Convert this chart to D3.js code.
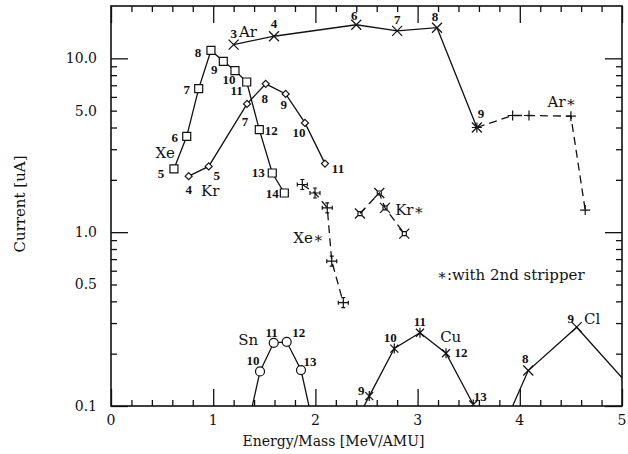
<!DOCTYPE html>
<html>
<head>
<meta charset="utf-8">
<script src="https://cdn.jsdelivr.net/npm/d3@7"></script>
<style>
  body { margin: 0; background: #fff; }
  text { fill: #111; }
</style>
</head>
<body>
<script>
// chart size
var wW = 628;
var wH = 454;

// ---- data (energy/mass in MeV/AMU, current in uA, charge state) ----
var arE = [1.20, 1.595, 2.40, 2.80, 3.19, 3.58];
var arI = [12.0, 13.4, 15.6, 14.4, 15.0, 4.0];
var arQ = ['3', '4', '6', '7', '8', '9'];

var arsE = [3.58, 3.93, 4.09, 4.50, 4.64];
var arsI = [4.0, 4.69, 4.69, 4.65, 1.34];

var xeE = [0.616, 0.741, 0.858, 0.978, 1.099, 1.213, 1.328, 1.451, 1.578, 1.696];
var xeI = [2.31, 3.56, 6.70, 11.1, 9.61, 8.5, 7.31, 3.89, 2.19, 1.68];
var xeQ = ['5', '6', '7', '8', '9', '10', '11', '12', '13', '14'];

var krE = [0.760, 0.956, 1.331, 1.514, 1.709, 1.898, 2.094];
var krI = [2.10, 2.39, 5.47, 7.13, 6.24, 4.25, 2.48];
var krQ = ['4', '5', '7', '8', '9', '10', '11'];

var xesE = [1.872, 1.996, 2.116, 2.160, 2.273];
var xesI = [1.88, 1.68, 1.38, 0.681, 0.393];

var krsE = [2.436, 2.625, 2.681, 2.870];
var krsI = [1.28, 1.68, 1.38, 0.98];

var snE = [1.324, 1.458, 1.592, 1.719, 1.859, 1.996];
var snI = [0.070, 0.158, 0.231, 0.234, 0.161, 0.070];
var snQ = ['', '10', '11', '12', '13', ''];

var cuE = [2.28, 2.527, 2.772, 3.023, 3.278, 3.545];
var cuI = [0.060, 0.114, 0.214, 0.264, 0.201, 0.102];
var cuQ = ['', '9', '10', '11', '12', '13'];

var clE = [3.71, 4.083, 4.557, 5.10];
var clI = [0.051, 0.160, 0.284, 0.125];
var clQ = ['', '8', '9', ''];

// axis ticks
var xTickValues = [0, 1, 2, 3, 4, 5];
var xTickLabels = ['0', '1', '2', '3', '4', '5'];
var yTickValues = [0.1, 0.5, 1, 5, 10];
var yTickLabels = ['0.1', '0.5', '1.0', '5.0', '10.0'];

// ---- layout ----
var margin = { left: 111, right: 6, top: 6, bottom: 48 };
var plotR = wW - margin.right;
var plotB = wH - margin.bottom;

var x = d3.scaleLinear().domain([0, 5]).range([margin.left, plotR]);
var y = d3.scaleLog().domain([0.1, 20]).range([plotB, margin.top]);

var serif = 'DejaVu Serif';
var labelFont = 'Liberation Serif';

// charge state label offsets (px, relative to the point)
var arOff = [[0, -11], [0, -12], [-2, -9], [0, -11], [-2, -11], [4, -14]];
var xeOff = [[-13, 5], [-12, 2], [-12, 1], [-13, 3], [-9, 9], [-6, 9], [-10, 9], [12, 1], [-14, 0], [-12, 1]];
var krOff = [[0, 14], [8, 10], [-2, 18], [-1, 15], [-2, 11], [-6, 10], [13, 5]];
var snOff = [[0, 0], [-7, -10], [-2, -10], [12, -9], [9, -8], [0, 0]];
var cuOff = [[0, 0], [-8, -5], [-4, -11], [0, -11], [15, 0], [7, -8]];
var clOff = [[0, 0], [-3, -12], [-6, -8], [0, 0]];

// series name labels, in data units
var seriesNames = [
  { text: 'Ar', e: 1.34, i: 14.1 },
  { text: 'Ar\u2217', e: 4.41, i: 5.62 },
  { text: 'Xe', e: 0.53, i: 2.85 },
  { text: 'Kr', e: 0.97, i: 1.72 },
  { text: 'Xe\u2217', e: 1.93, i: 0.92 },
  { text: 'Kr\u2217', e: 2.92, i: 1.34 },
  { text: 'Sn', e: 1.343, i: 0.240 },
  { text: 'Cu', e: 3.324, i: 0.251 },
  { text: 'Cl', e: 4.709, i: 0.316 }
];

var svg = d3.select('body').append('svg')
  .attr('width', wW)
  .attr('height', wH);

svg.append('defs').append('clipPath').attr('id', 'plot')
  .append('rect')
  .attr('x', margin.left).attr('y', margin.top)
  .attr('width', plotR - margin.left).attr('height', plotB - margin.top);

// ---- axes: inward ticks on all four sides ----
var xMinor = d3.range(0, 5.01, 0.2).filter(v => Math.abs(v - Math.round(v)) > 0.01);
var yMinor = [];
[0.1, 1, 10].forEach(d => {
  for (var k = 2; k <= 9; k++) if (d * k < 20) yMinor.push(d * k);
});
var yMajor = [0.1, 1, 10];

var tickStyle = (g) => {
  g.select('.domain').remove();
  g.selectAll('line').attr('stroke', '#111').attr('stroke-width', 1.3);
};

svg.append('g').attr('transform', 'translate(0,' + plotB + ')')
  .call(d3.axisBottom(x).tickValues(xMinor).tickSize(-6).tickFormat(''))
  .call(tickStyle);
svg.append('g').attr('transform', 'translate(0,' + plotB + ')')
  .call(d3.axisBottom(x).tickValues(xTickValues).tickSize(-17).tickFormat(''))
  .call(tickStyle);
svg.append('g').attr('transform', 'translate(0,' + margin.top + ')')
  .call(d3.axisTop(x).tickValues(xMinor).tickSize(-6).tickFormat(''))
  .call(tickStyle);
svg.append('g').attr('transform', 'translate(0,' + margin.top + ')')
  .call(d3.axisTop(x).tickValues(xTickValues).tickSize(-17).tickFormat(''))
  .call(tickStyle);

svg.append('g').attr('transform', 'translate(' + margin.left + ',0)')
  .call(d3.axisLeft(y).tickValues(yMinor).tickSize(-6).tickFormat(''))
  .call(tickStyle);
svg.append('g').attr('transform', 'translate(' + margin.left + ',0)')
  .call(d3.axisLeft(y).tickValues(yMajor).tickSize(-17).tickFormat(''))
  .call(tickStyle);
svg.append('g').attr('transform', 'translate(' + plotR + ',0)')
  .call(d3.axisRight(y).tickValues(yMinor).tickSize(-6).tickFormat(''))
  .call(tickStyle);
svg.append('g').attr('transform', 'translate(' + plotR + ',0)')
  .call(d3.axisRight(y).tickValues(yMajor).tickSize(-17).tickFormat(''))
  .call(tickStyle);

// frame
svg.append('rect')
  .attr('x', margin.left).attr('y', margin.top)
  .attr('width', plotR - margin.left).attr('height', plotB - margin.top)
  .attr('fill', 'none').attr('stroke', '#111').attr('stroke-width', 1.6);

// tick labels
xTickValues.forEach((v, idx) => {
  svg.append('text')
    .attr('x', x(v)).attr('y', plotB + 19)
    .attr('font-family', serif).attr('font-size', 14)
    .attr('text-anchor', 'middle')
    .text(xTickLabels[idx]);
});
yTickValues.forEach((v, idx) => {
  svg.append('text')
    .attr('x', margin.left - 14).attr('y', y(v) + 5)
    .attr('font-family', serif).attr('font-size', 14)
    .attr('text-anchor', 'end')
    .text(yTickLabels[idx]);
});

// axis titles
svg.append('text')
  .attr('x', (margin.left + plotR) / 2 - 33).attr('y', wH - 8)
  .attr('font-family', serif).attr('font-size', 14)
  .attr('text-anchor', 'middle')
  .text('Energy/Mass [MeV/AMU]');
svg.append('text')
  .attr('transform', 'translate(25,' + ((margin.top + plotB) / 2 - 2) + ') rotate(-90)')
  .attr('font-family', serif).attr('font-size', 15)
  .attr('text-anchor', 'middle')
  .text('Current [uA]');

// ---- marks ----
var markerPaths = {
  times: 'M-5,-5L5,5M-5,5L5,-5',
  plus: 'M-5,0H5M0,-5V5',
  square: 'M-4,-4H4V4H-4Z',
  diamond: 'M0,-3.5L3.5,0L0,3.5L-3.5,0Z',
  potent: 'M-5,0H5M0,-5V5M-2,-5H2M-2,5H2M-5,-2V2M5,-2V2',
  bowtie: 'M-2,-2H2V2H-2ZM-2,-2L-5,-5M2,-2L5,-5M2,2L5,5M-2,2L-5,5',
  star: 'M-4,-4L4,4M-4,4L4,-4M0,-5V5'
};

var plotG = svg.append('g').attr('clip-path', 'url(#plot)');

var line = d3.line()
  .x(d => x(d[0]))
  .y(d => y(d[1]));

var drawSeries = (es, is, shape, dashed) => {
  var pts = es.map((e, k) => [e, is[k]]);
  plotG.append('path')
    .attr('d', line(pts))
    .attr('fill', 'none')
    .attr('stroke', '#111')
    .attr('stroke-width', 1.3)
    .attr('stroke-dasharray', dashed ? '8,5' : null);

  pts.forEach((p) => {
    if (shape == 'circle') {
      plotG.append('circle')
        .attr('cx', x(p[0])).attr('cy', y(p[1])).attr('r', 4.5)
        .attr('fill', 'white').attr('stroke', '#111').attr('stroke-width', 1.2);
    } else {
      plotG.append('path')
        .attr('transform', 'translate(' + x(p[0]) + ',' + y(p[1]) + ')')
        .attr('d', markerPaths[shape])
        .attr('fill', (shape == 'square' || shape == 'diamond') ? 'white' : 'none')
        .attr('stroke', '#111').attr('stroke-width', 1.2);
    }
  });
};

var drawCharges = (es, is, qs, offs) => {
  qs.forEach((q, k) => {
    if (!q) return;
    svg.append('text')
      .attr('x', x(es[k]) + offs[k][0])
      .attr('y', y(is[k]) + offs[k][1] + 4)
      .attr('font-family', labelFont).attr('font-size', 13)
      .attr('font-weight', 'bold')
      .attr('text-anchor', 'middle')
      .text(q);
  });
};

drawSeries(arsE, arsI, 'plus', true);
drawSeries(arE, arI, 'times', false);
drawSeries(xeE, xeI, 'square', false);
drawSeries(krE, krI, 'diamond', false);
drawSeries(xesE, xesI, 'potent', true);
drawSeries(krsE, krsI, 'bowtie', true);
drawSeries(snE, snI, 'circle', false);
drawSeries(cuE, cuI, 'star', false);
drawSeries(clE, clI, 'times', false);

drawCharges(arE, arI, arQ, arOff);
drawCharges(xeE, xeI, xeQ, xeOff);
drawCharges(krE, krI, krQ, krOff);
drawCharges(snE, snI, snQ, snOff);
drawCharges(cuE, cuI, cuQ, cuOff);
drawCharges(clE, clI, clQ, clOff);

// series names
seriesNames.forEach((s) => {
  svg.append('text')
    .attr('x', x(s.e)).attr('y', y(s.i) + 5)
    .attr('font-family', serif).attr('font-size', 15)
    .attr('text-anchor', 'middle')
    .text(s.text);
});

// note
svg.append('text')
  .attr('x', x(3.187)).attr('y', y(0.568) + 5)
  .attr('font-family', serif).attr('font-size', 15)
  .text('\u2217:with 2nd stripper');
</script>
</body>
</html>
